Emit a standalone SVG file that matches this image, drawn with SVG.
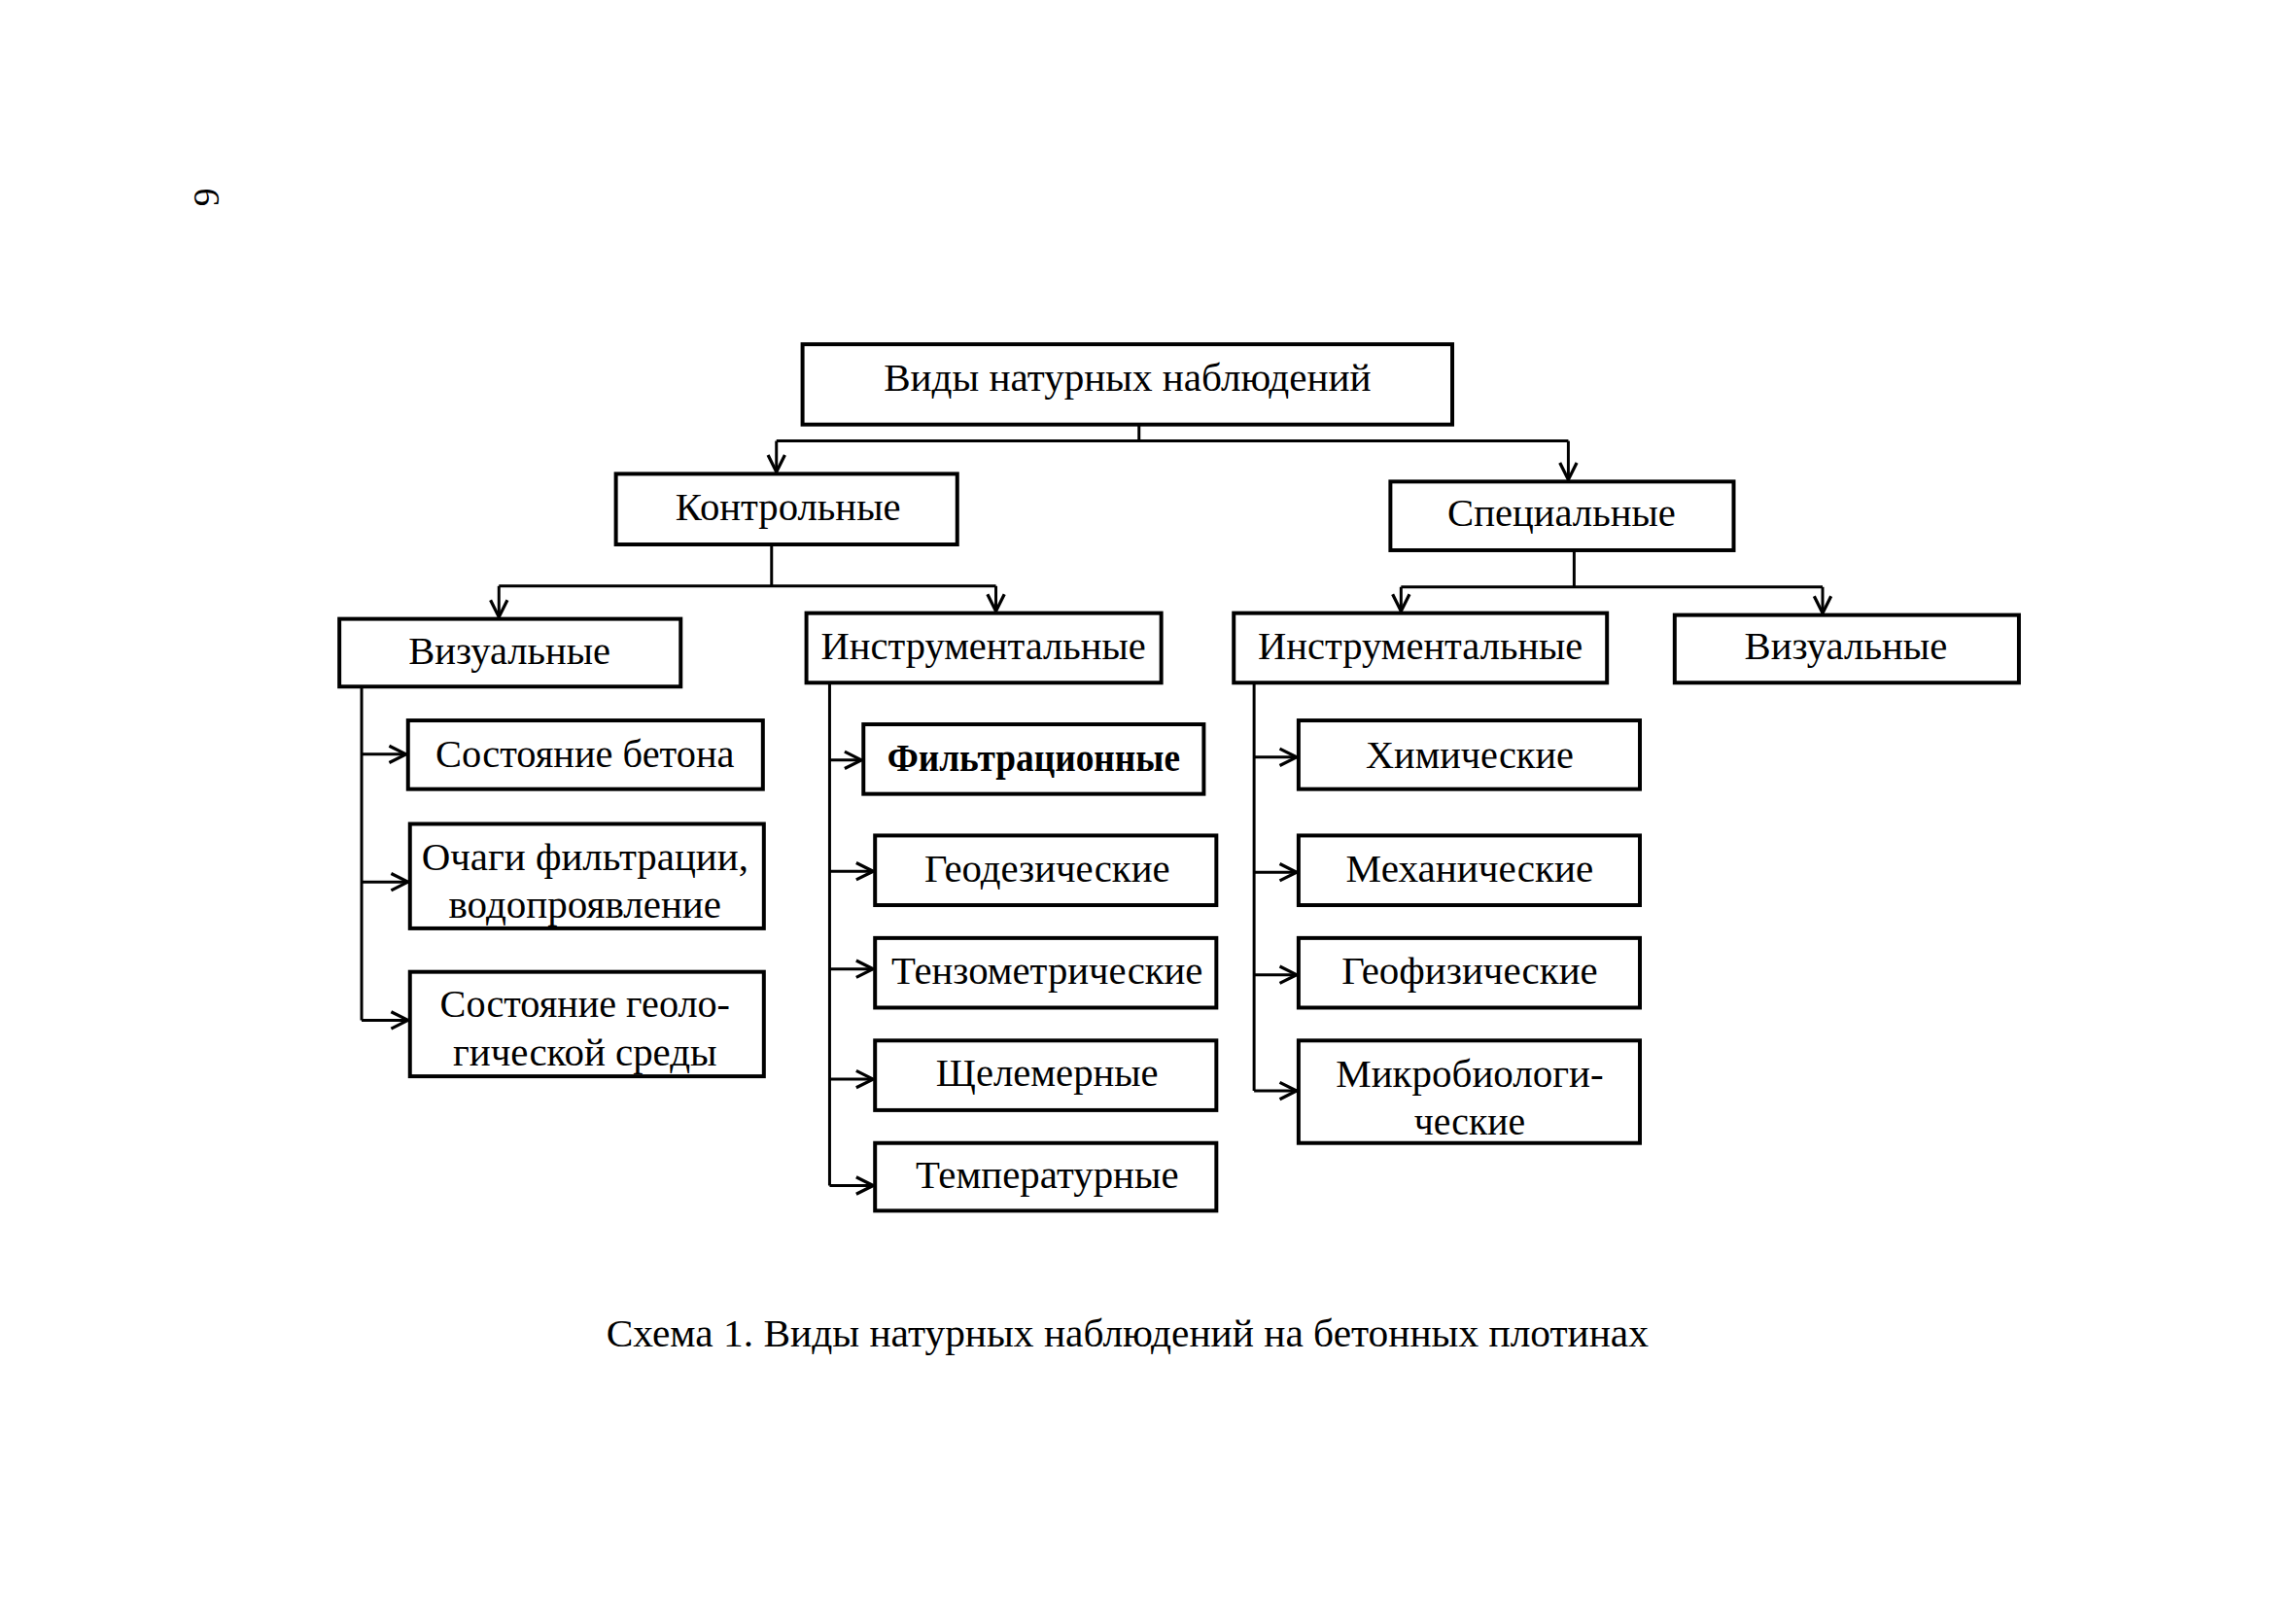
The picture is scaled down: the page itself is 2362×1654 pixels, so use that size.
<svg xmlns="http://www.w3.org/2000/svg" width="2362" height="1654" viewBox="0 0 2362 1654">
<style>
.box{fill:#fff;stroke:#000;stroke-width:4}
.t{font-family:"Liberation Serif","Times New Roman",serif;font-size:40px;fill:#000;text-anchor:middle}
.b{font-weight:bold}
.c{fill:none;stroke:#000;stroke-width:3}
.a{fill:none;stroke:#000;stroke-width:3;marker-end:url(#arr)}
</style>
<defs>
<marker id="arr" markerUnits="userSpaceOnUse" markerWidth="24" markerHeight="24" viewBox="-20 -10 22 20" refX="0" refY="0" orient="auto">
<path d="M-16,-8 L0,0 L-16,8" fill="none" stroke="#000" stroke-width="3"/>
</marker>
</defs>
<rect width="2362" height="1654" fill="#fff"/>
<g transform="scale(0.9947)">
<text class="t" x="212" y="204" transform="rotate(-90 212 204)" dy="14" style="font-size:38px">9</text>

<g id="connectors">
<path class="c" d="M1178,439 V456 M803,456 H1622"/>
<path class="a" d="M803,456 V488"/>
<path class="a" d="M1622,456 V496"/>
<path class="c" d="M798,563 V606 M516,606 H1030"/>
<path class="a" d="M516,606 V638"/>
<path class="a" d="M1030,606 V632"/>
<path class="c" d="M1628,569 V607 M1449,607 H1885"/>
<path class="a" d="M1449,607 V632"/>
<path class="a" d="M1885,607 V634"/>
<path class="c" d="M374,710 V1055"/>
<path class="a" d="M374,780 H420"/>
<path class="a" d="M374,912 H422"/>
<path class="a" d="M374,1055 H422"/>
<path class="c" d="M858,706 V1226"/>
<path class="a" d="M858,786 H891"/>
<path class="a" d="M858,901 H903"/>
<path class="a" d="M858,1002 H903"/>
<path class="a" d="M858,1116 H903"/>
<path class="a" d="M858,1226 H903"/>
<path class="c" d="M1297,706 V1128"/>
<path class="a" d="M1297,783 H1341"/>
<path class="a" d="M1297,902 H1341"/>
<path class="a" d="M1297,1008 H1341"/>
<path class="a" d="M1297,1128 H1341"/>
</g>

<g id="n-root"><rect class="box" x="830" y="356" width="672" height="83"/><text class="t" x="1166" y="404" textLength="504" lengthAdjust="spacingAndGlyphs">Виды натурных наблюдений</text></g>
<g id="n-kontr"><rect class="box" x="637" y="490" width="353" height="73"/><text class="t" x="815" y="538" textLength="233" lengthAdjust="spacingAndGlyphs">Контрольные</text></g>
<g id="n-spec"><rect class="box" x="1438" y="498" width="355" height="71"/><text class="t" x="1615" y="544" textLength="236" lengthAdjust="spacingAndGlyphs">Специальные</text></g>
<g id="n-vis1"><rect class="box" x="351" y="640" width="353" height="70"/><text class="t" x="527" y="687" textLength="209" lengthAdjust="spacingAndGlyphs">Визуальные</text></g>
<g id="n-instr1"><rect class="box" x="834" y="634" width="367" height="72"/><text class="t" x="1017" y="682" textLength="336" lengthAdjust="spacingAndGlyphs">Инструментальные</text></g>
<g id="n-instr2"><rect class="box" x="1276" y="634" width="386" height="72"/><text class="t" x="1469" y="682" textLength="336" lengthAdjust="spacingAndGlyphs">Инструментальные</text></g>
<g id="n-vis2"><rect class="box" x="1732" y="636" width="356" height="70"/><text class="t" x="1909" y="682" textLength="210" lengthAdjust="spacingAndGlyphs">Визуальные</text></g>

<g id="n-beton"><rect class="box" x="422" y="745" width="367" height="71"/><text class="t" x="605" y="793" textLength="309" lengthAdjust="spacingAndGlyphs">Состояние бетона</text></g>
<g id="n-ochagi"><rect class="box" x="424" y="852" width="366" height="108"/><text class="t" x="605" y="900" textLength="338" lengthAdjust="spacingAndGlyphs">Очаги фильтрации,</text><text class="t" x="605" y="949" textLength="282" lengthAdjust="spacingAndGlyphs">водопроявление</text></g>
<g id="n-geol"><rect class="box" x="424" y="1005" width="366" height="108"/><text class="t" x="605" y="1052" textLength="300" lengthAdjust="spacingAndGlyphs">Состояние геоло-</text><text class="t" x="605" y="1102" textLength="273" lengthAdjust="spacingAndGlyphs">гической среды</text></g>

<g id="n-filtr"><rect class="box" x="893" y="749" width="352" height="72"/><text class="t b" x="1069" y="797" textLength="303" lengthAdjust="spacingAndGlyphs">Фильтрационные</text></g>
<g id="n-geod"><rect class="box" x="905" y="864" width="353" height="72"/><text class="t" x="1083" y="912" textLength="254" lengthAdjust="spacingAndGlyphs">Геодезические</text></g>
<g id="n-tenz"><rect class="box" x="905" y="970" width="353" height="72"/><text class="t" x="1083" y="1017" textLength="322" lengthAdjust="spacingAndGlyphs">Тензометрические</text></g>
<g id="n-shchel"><rect class="box" x="905" y="1076" width="353" height="72"/><text class="t" x="1083" y="1123" textLength="230" lengthAdjust="spacingAndGlyphs">Щелемерные</text></g>
<g id="n-temp"><rect class="box" x="905" y="1182" width="353" height="70"/><text class="t" x="1083" y="1229" textLength="272" lengthAdjust="spacingAndGlyphs">Температурные</text></g>

<g id="n-chem"><rect class="box" x="1343" y="745" width="353" height="71"/><text class="t" x="1520" y="794" textLength="215" lengthAdjust="spacingAndGlyphs">Химические</text></g>
<g id="n-mech"><rect class="box" x="1343" y="864" width="353" height="72"/><text class="t" x="1520" y="912" textLength="256" lengthAdjust="spacingAndGlyphs">Механические</text></g>
<g id="n-geof"><rect class="box" x="1343" y="970" width="353" height="72"/><text class="t" x="1520" y="1017" textLength="265" lengthAdjust="spacingAndGlyphs">Геофизические</text></g>
<g id="n-micro"><rect class="box" x="1343" y="1076" width="353" height="106"/><text class="t" x="1520" y="1124" textLength="277" lengthAdjust="spacingAndGlyphs">Микробиологи-</text><text class="t" x="1520" y="1173" textLength="115" lengthAdjust="spacingAndGlyphs">ческие</text></g>

<text class="t" x="1166" y="1392" textLength="1078" lengthAdjust="spacingAndGlyphs">Схема 1. Виды натурных наблюдений на бетонных плотинах</text>
</g>
</svg>
